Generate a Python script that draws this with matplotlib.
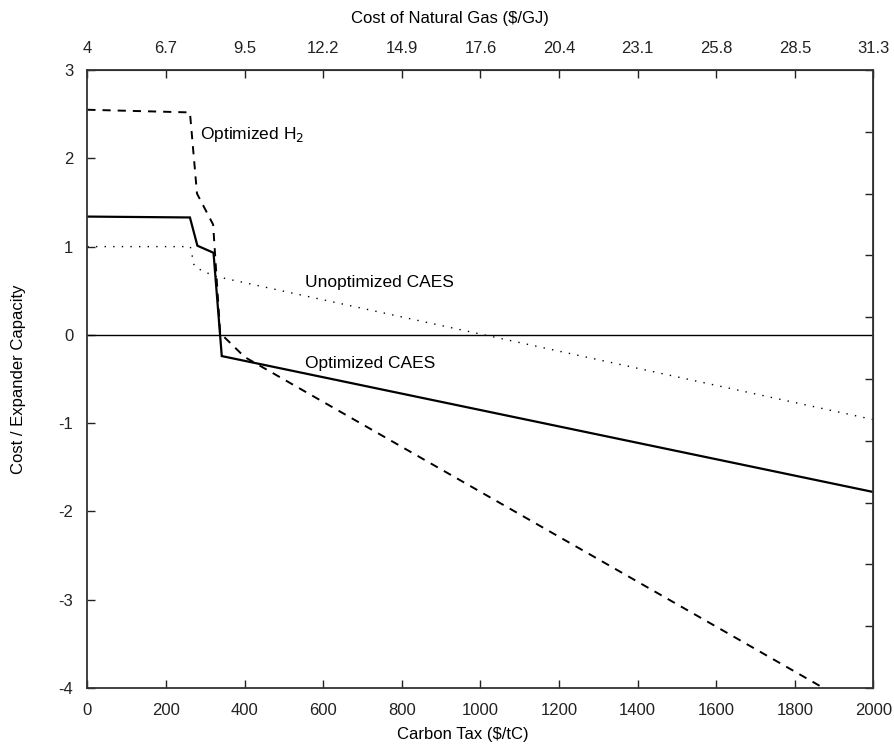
import matplotlib
matplotlib.use("Agg")
import matplotlib.pyplot as plt
import numpy as np

plt.rcParams['font.family'] = ['Liberation Sans', 'DejaVu Sans']
plt.rcParams['axes.unicode_minus'] = False

# Optimized H2 (dashed)
h2_tax = [0, 261, 279, 320, 338, 400, 1873]
h2_val = [2.55, 2.52, 1.60, 1.25, 0.02, -0.25, -4.0]

# Optimized CAES (solid)
opt_tax = [0, 261, 280, 321, 342, 2000]
opt_val = [1.34, 1.33, 1.01, 0.93, -0.24, -1.78]

# Unoptimized CAES (dotted)
unopt_tax = [0, 262, 272, 294, 329, 2000]
unopt_val = [1.0, 1.0, 0.78, 0.72, 0.66, -0.96]

bottom_ticks = [0, 200, 400, 600, 800, 1000, 1200, 1400, 1600, 1800, 2000]
gas_labels = ['4', '6.7', '9.5', '12.2', '14.9', '17.6', '20.4', '23.1', '25.8', '28.5', '31.3']
y_ticks = [-4, -3, -2, -1, 0, 1, 2, 3]

fig = plt.figure(figsize=(8.94, 7.53), dpi=100)
ax = fig.add_axes([0.0977, 0.0863, 0.977 - 0.0977, 0.907 - 0.0863])

ax.axhline(0, color='black', lw=1.0)
ax.plot(opt_tax, opt_val, color='black', lw=1.6, solid_joinstyle='miter')
ax.plot(h2_tax, h2_val, color='black', lw=1.4, linestyle=(0, (4.2, 3.6)))
ax.plot(unopt_tax, unopt_val, color='black', lw=1.0, linestyle=(0, (1, 5.2)))

ax.text(287, 2.27, 'Optimized H$_2$', fontsize=12.5, va='center', ha='left')
ax.text(554, 0.59, 'Unoptimized CAES', fontsize=12.5, va='center', ha='left')
ax.text(554, -0.32, 'Optimized CAES', fontsize=12.5, va='center', ha='left')

ax.set_xlim(0, 2000)
ax.set_ylim(-4, 3)
ax.set_xticks(bottom_ticks)
ax.set_yticks(y_ticks)
ax.tick_params(direction='in', length=6, width=1, labelsize=12, colors='#222222')
ax.tick_params(axis='x', pad=11)
ax.tick_params(axis='y', pad=10)

ax.set_xlabel('Carbon Tax ($/tC)', fontsize=12)
ax.xaxis.label.set_va('center')
ax.xaxis.set_label_coords(0.478, -0.076)
ax.set_ylabel('Cost / Expander Capacity', fontsize=12)
ax.yaxis.label.set_va('center')
ax.yaxis.set_label_coords(-0.088, 0.5)

for s in ax.spines.values():
    s.set_linewidth(1.3)
    s.set_color('#333333')

# top axis: natural gas cost
top = ax.secondary_xaxis('top')
top.set_xticks(bottom_ticks)
top.set_xticklabels(gas_labels)
top.tick_params(direction='in', length=6, width=1, labelsize=12, pad=10, colors='#222222')
ax.text(0.461, 1.084, 'Cost of Natural Gas ($/GJ)', fontsize=12,
        ha='center', va='center', transform=ax.transAxes)

# right axis: unlabeled ticks
right = ax.secondary_yaxis('right')
right.set_yticks(np.linspace(-4, 3, 11))
right.set_yticklabels([])
right.tick_params(direction='in', length=6, width=1, colors='#222222')

fig.savefig('out.png', dpi=100)
